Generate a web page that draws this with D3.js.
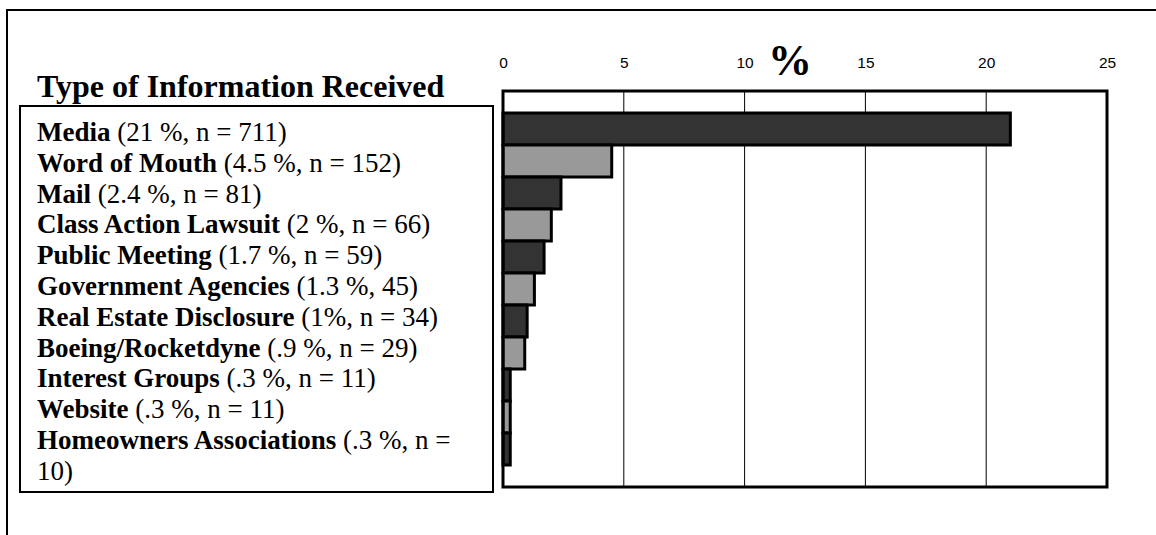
<!DOCTYPE html>
<html>
<head>
<meta charset="utf-8">
<script src="https://cdn.jsdelivr.net/npm/d3@7"></script>
<style>
  html, body { margin: 0; padding: 0; background: #fff; }
  svg { display: block; }
</style>
</head>
<body>
<svg id="chart" width="1156" height="535"></svg>
<script>
// ---- data ----
const categories = ["Media", "Word of Mouth", "Mail", "Class Action Lawsuit", "Public Meeting",
  "Government Agencies", "Real Estate Disclosure", "Boeing/Rocketdyne", "Interest Groups",
  "Website", "Homeowners Associations"];
const percentValues = [21, 4.5, 2.4, 2, 1.7, 1.3, 1, 0.9, 0.3, 0.3, 0.3];
const detailLabels = ["(21 %, n = 711)", "(4.5 %, n = 152)", "(2.4 %, n = 81)", "(2 %, n = 66)",
  "(1.7 %, n = 59)", "(1.3 %, 45)", "(1%, n = 34)", "(.9 %, n = 29)", "(.3 %, n = 11)",
  "(.3 %, n = 11)", "(.3 %, n = 10)"];
const tickValues = [0, 5, 10, 15, 20, 25];
const barColors = ["#333333", "#999999"];
const titleText = "Type of Information Received";
const axisTitle = "%";

// ---- layout ----
const svg = d3.select("#chart");
const serif = "'Liberation Serif', 'Times New Roman', serif";
const sans = "'Liberation Sans', Arial, sans-serif";

// outer frame (only top & left visible)
svg.append("rect").attr("x", 7).attr("y", 10).attr("width", 1300).attr("height", 700)
  .attr("fill", "none").attr("stroke", "#000").attr("stroke-width", 2);

const plot = { left: 503, right: 1107, top: 91, bottom: 487 };
const x = d3.scaleLinear().domain([0, 25]).range([plot.left, plot.right]);
const y = d3.scaleBand().domain(categories).range([plot.top, plot.bottom])
  .paddingInner(0).paddingOuter(0.6875);

// gridlines
svg.append("g").selectAll("line").data(tickValues.slice(1, -1)).join("line")
  .attr("x1", d => x(d)).attr("x2", d => x(d))
  .attr("y1", plot.top).attr("y2", plot.bottom)
  .attr("stroke", "#000").attr("stroke-width", 1);

// bars
svg.append("g").selectAll("rect").data(categories).join("rect")
  .attr("x", x(0))
  .attr("y", d => y(d))
  .attr("width", (d, i) => x(percentValues[i]) - x(0))
  .attr("height", y.bandwidth())
  .attr("fill", (d, i) => barColors[i % 2])
  .attr("stroke", "#000").attr("stroke-width", 3);

// plot border
svg.append("rect").attr("x", plot.left).attr("y", plot.top)
  .attr("width", plot.right - plot.left).attr("height", plot.bottom - plot.top)
  .attr("fill", "none").attr("stroke", "#000").attr("stroke-width", 3);

// top axis labels
const axis = d3.axisTop(x).tickValues(tickValues).tickSize(0).tickPadding(0).tickFormat(d3.format("d"));
const ag = svg.append("g").attr("transform", `translate(0, 68)`).call(axis);
ag.attr("font-size", null).attr("font-family", null);
ag.select(".domain").remove();
ag.selectAll("text").style("font-family", sans).style("font-size", "15.5px").attr("fill", "#000")
  .attr("dy", 0);

// axis title "%"
svg.append("text").attr("x", 790).attr("y", 75).attr("text-anchor", "middle")
  .attr("font-family", serif).attr("font-weight", "bold").attr("font-size", 44)
  .text(axisTitle);

// chart title
svg.append("text").attr("x", 37).attr("y", 97)
  .attr("font-family", serif).attr("font-weight", "bold").attr("font-size", 32)
  .text(titleText);

// legend box
svg.append("rect").attr("x", 20).attr("y", 106).attr("width", 473).attr("height", 386)
  .attr("fill", "none").attr("stroke", "#000").attr("stroke-width", 2);

const lineH = 30.8;
const lg = svg.append("g").attr("font-family", serif).attr("font-size", 27).attr("fill", "#000");
let row = 0;
categories.forEach((c, i) => {
  const t = lg.append("text").attr("x", 37).attr("y", 141 + row * lineH);
  t.append("tspan").attr("font-weight", "bold").text(c);
  const det = detailLabels[i];
  if (i === categories.length - 1) {
    // wrapped line
    const cut = det.lastIndexOf(" ");
    t.append("tspan").text(" " + det.slice(0, cut));
    row++;
    lg.append("text").attr("x", 37).attr("y", 141 + row * lineH).text(det.slice(cut + 1));
  } else {
    t.append("tspan").text(" " + det);
  }
  row++;
});
</script>
</body>
</html>
